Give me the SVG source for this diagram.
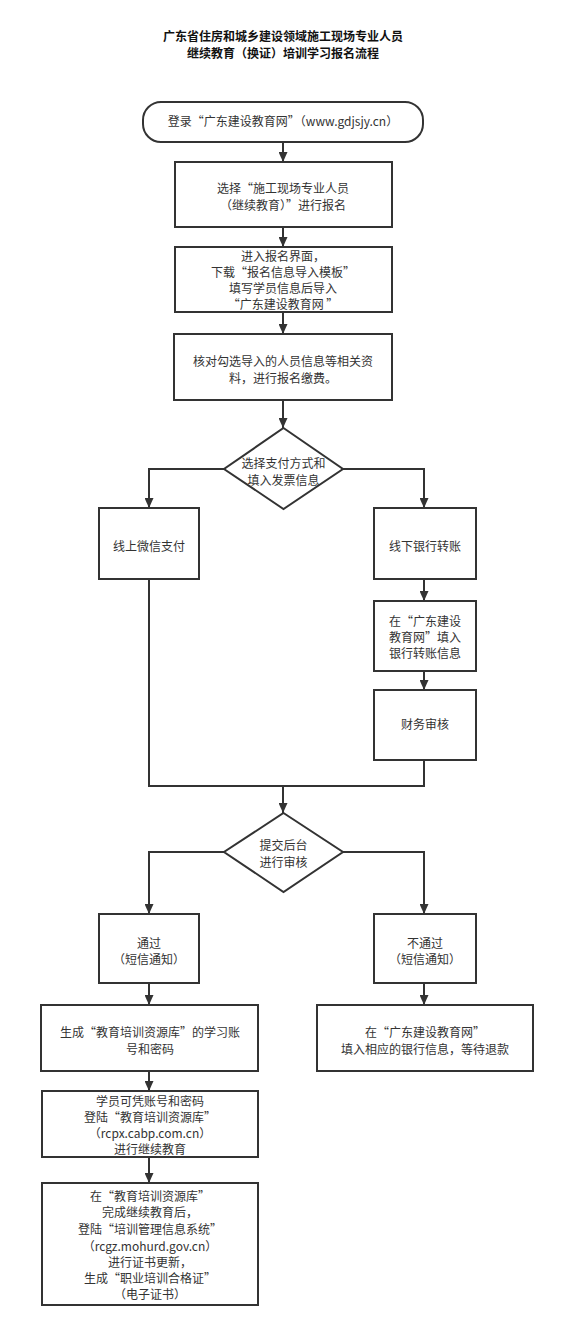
<svg xmlns="http://www.w3.org/2000/svg" width="567" height="1330" viewBox="0 0 567 1330">
<defs>
<marker id="arr" markerWidth="10" markerHeight="9" refX="10" refY="4.5" orient="auto" markerUnits="userSpaceOnUse"><path d="M0,0 L10,4.5 L0,9 Z" fill="#333"/></marker>
<style>
.box{fill:#fff;stroke:#333;stroke-width:2}
.t{font-family:"Noto Sans CJK SC","Microsoft YaHei",sans-serif;font-size:12px;fill:#333;text-anchor:middle}
.title{font-family:"Noto Sans CJK SC",sans-serif;font-size:12px;font-weight:bold;fill:#111;text-anchor:middle}
.c{fill:none;stroke:#333;stroke-width:2}
.ca{fill:none;stroke:#333;stroke-width:2;marker-end:url(#arr)}
</style>
</defs>
<rect width="567" height="1330" fill="#fff"/>
<g id="title">
<text class="title" x="283" y="41">广东省住房和城乡建设领域施工现场专业人员</text>
<text class="title" x="283" y="58">继续教育（换证）培训学习报名流程</text>
</g>
<g id="connectors">
<path class="ca" d="M283,142 V162"/>
<path class="ca" d="M283,227 V247"/>
<path class="ca" d="M283,312 V334"/>
<path class="ca" d="M283,400 V428"/>
<path class="ca" d="M224,469 H149 V508"/>
<path class="ca" d="M343,469 H424 V508"/>
<path class="ca" d="M424,579 V601"/>
<path class="ca" d="M424,671 V690"/>
<path class="c" d="M149,579 V786 H424 V760"/>
<path class="ca" d="M283,786 V813"/>
<path class="ca" d="M224,852 H149 V914"/>
<path class="ca" d="M343,852 H424 V914"/>
<path class="ca" d="M149,983 V1005"/>
<path class="ca" d="M424,983 V1005"/>
<path class="ca" d="M149,1071 V1091"/>
<path class="ca" d="M149,1157 V1183"/>
</g>
<g id="n1">
<rect class="box" x="143" y="102" width="280" height="40" rx="18" ry="18"/>
<text class="t" x="283" y="126">登录“广东建设教育网”（www.gdjsjy.cn）</text>
</g>
<g id="n2">
<rect class="box" x="175" y="162" width="217" height="65"/>
<text class="t" x="283" y="193">选择“施工现场专业人员</text>
<text class="t" x="283" y="210">（继续教育）”进行报名</text>
</g>
<g id="n3">
<rect class="box" x="175" y="247" width="217" height="65"/>
<text class="t" x="283" y="261">进入报名界面，</text>
<text class="t" x="283" y="277">下载“报名信息导入模板”</text>
<text class="t" x="283" y="293">填写学员信息后导入</text>
<text class="t" x="283" y="309">“广东建设教育网 ”</text>
</g>
<g id="n4">
<rect class="box" x="174" y="334" width="218" height="66"/>
<text class="t" x="283" y="366">核对勾选导入的人员信息等相关资</text>
<text class="t" x="283" y="383">料，进行报名缴费。</text>
</g>
<g id="d1">
<polygon class="box" points="283.5,428 343,469 283.5,509 224,469"/>
<text class="t" x="283.5" y="468">选择支付方式和</text>
<text class="t" x="283.5" y="485">填入发票信息</text>
</g>
<g id="n5">
<rect class="box" x="99" y="508" width="100" height="71"/>
<text class="t" x="149" y="551">线上微信支付</text>
</g>
<g id="n6">
<rect class="box" x="374" y="508" width="102" height="71"/>
<text class="t" x="425" y="551">线下银行转账</text>
</g>
<g id="n7">
<rect class="box" x="374" y="601" width="102" height="70"/>
<text class="t" x="425" y="626">在“广东建设</text>
<text class="t" x="425" y="642">教育网”填入</text>
<text class="t" x="425" y="658">银行转账信息</text>
</g>
<g id="n8">
<rect class="box" x="374" y="690" width="102" height="70"/>
<text class="t" x="425" y="729">财务审核</text>
</g>
<g id="d2">
<polygon class="box" points="283.5,813 343,852 283.5,892 224,852"/>
<text class="t" x="283.5" y="850">提交后台</text>
<text class="t" x="283.5" y="867">进行审核</text>
</g>
<g id="n9">
<rect class="box" x="99" y="914" width="100" height="69"/>
<text class="t" x="149" y="948">通过</text>
<text class="t" x="149" y="964">（短信通知）</text>
</g>
<g id="n10">
<rect class="box" x="374" y="914" width="102" height="69"/>
<text class="t" x="425" y="948">不通过</text>
<text class="t" x="425" y="964">（短信通知）</text>
</g>
<g id="n11">
<rect class="box" x="41" y="1005" width="217" height="66"/>
<text class="t" x="150" y="1037">生成“教育培训资源库”的学习账</text>
<text class="t" x="150" y="1054">号和密码</text>
</g>
<g id="n12">
<rect class="box" x="317" y="1005" width="216" height="66"/>
<text class="t" x="425" y="1037">在“广东建设教育网”</text>
<text class="t" x="425" y="1054">填入相应的银行信息，等待退款</text>
</g>
<g id="n13">
<rect class="box" x="42" y="1091" width="216" height="66"/>
<text class="t" x="150" y="1106">学员可凭账号和密码</text>
<text class="t" x="150" y="1122">登陆“教育培训资源库”</text>
<text class="t" x="150" y="1138">（rcpx.cabp.com.cn）</text>
<text class="t" x="150" y="1154">进行继续教育</text>
</g>
<g id="n14">
<rect class="box" x="42" y="1183" width="216" height="122"/>
<text class="t" x="150" y="1201">在“教育培训资源库”</text>
<text class="t" x="150" y="1217">完成继续教育后，</text>
<text class="t" x="150" y="1234">登陆“培训管理信息系统”</text>
<text class="t" x="150" y="1251">（rcgz.mohurd.gov.cn）</text>
<text class="t" x="150" y="1267">进行证书更新，</text>
<text class="t" x="150" y="1283">生成“职业培训合格证”</text>
<text class="t" x="150" y="1299">（电子证书）</text>
</g>
</svg>
